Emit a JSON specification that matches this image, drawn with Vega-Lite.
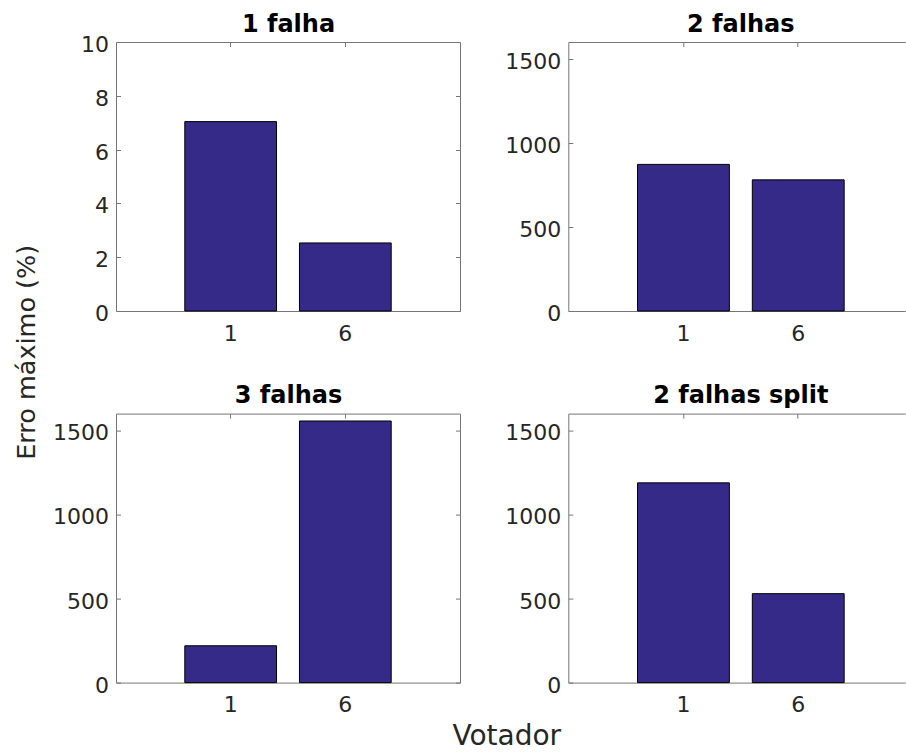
{
  "$schema": "https://vega.github.io/schema/vega-lite/v6.json",
  "background": "white",
  "padding": {"left": 14, "top": 12, "right": 0, "bottom": 0},
  "data": {
    "values": [
      {"painel": "1 falha", "votador": "1", "erro": 7.04},
      {"painel": "1 falha", "votador": "6", "erro": 2.53},
      {"painel": "2 falhas", "votador": "1", "erro": 872},
      {"painel": "2 falhas", "votador": "6", "erro": 780},
      {"painel": "3 falhas", "votador": "1", "erro": 219},
      {"painel": "3 falhas", "votador": "6", "erro": 1556},
      {"painel": "2 falhas split", "votador": "1", "erro": 1188},
      {"painel": "2 falhas split", "votador": "6", "erro": 529}
    ]
  },
  "columns": 2,
  "bounds": "flush",
  "spacing": {"row": 102.6, "column": 108.3},
  "concat": [
    {
      "width": 344,
      "height": 269,
      "transform": [{"filter": "datum.painel === '1 falha'"}],
      "layer": [
        {
          "mark": {"type": "bar", "fill": "#352a87", "stroke": "#000000", "strokeWidth": 1},
          "encoding": {
            "x": {"field": "votador", "type": "nominal",
                  "scale": {"paddingInner": 0.2, "paddingOuter": 0.6, "align": 0.5},
                  "axis": {"orient": "bottom", "title": null}},
            "y": {"field": "erro", "type": "quantitative",
                  "scale": {"domain": [0, 10], "nice": false},
                  "axis": {"orient": "left", "values": [0, 2, 4, 6, 8, 10],
                           "title": "Erro máximo (%)", "titleFontSize": 25.5,
                           "titleX": -81.7, "titleY": 309.8, "titleAngle": 270,
                           "titleAlign": "center", "titleBaseline": "alphabetic"}}
          }
        },
        {
          "mark": {"type": "bar", "opacity": 0},
          "encoding": {
            "x": {"field": "votador", "type": "nominal", "axis": {"orient": "top", "title": "1 falha"}},
            "y": {"field": "erro", "type": "quantitative",
                  "axis": {"orient": "right", "values": [0, 2, 4, 6, 8, 10], "title": null}}
          }
        }
      ],
      "resolve": {"axis": {"x": "independent", "y": "independent"}}
    },
    {
      "width": 337,
      "height": 269,
      "transform": [{"filter": "datum.painel === '2 falhas'"}],
      "layer": [
        {
          "mark": {"type": "bar", "fill": "#352a87", "stroke": "#000000", "strokeWidth": 1},
          "encoding": {
            "x": {"field": "votador", "type": "nominal",
                  "scale": {"paddingInner": 0.2, "paddingOuter": 0.5678, "align": 0.531},
                  "axis": {"orient": "bottom", "title": null}},
            "y": {"field": "erro", "type": "quantitative",
                  "scale": {"domain": [0, 1600], "nice": false},
                  "axis": {"orient": "left", "values": [0, 500, 1000, 1500], "title": null}}
          }
        },
        {
          "mark": {"type": "bar", "opacity": 0},
          "encoding": {
            "x": {"field": "votador", "type": "nominal", "axis": {"orient": "top", "title": "2 falhas"}},
            "y": {"field": "erro", "type": "quantitative", "axis": null}
          }
        }
      ],
      "resolve": {"axis": {"x": "independent", "y": "independent"}}
    },
    {
      "width": 344,
      "height": 269,
      "transform": [{"filter": "datum.painel === '3 falhas'"}],
      "layer": [
        {
          "mark": {"type": "bar", "fill": "#352a87", "stroke": "#000000", "strokeWidth": 1},
          "encoding": {
            "x": {"field": "votador", "type": "nominal",
                  "scale": {"paddingInner": 0.2, "paddingOuter": 0.6, "align": 0.5},
                  "axis": {"orient": "bottom", "title": "Votador", "titleFontSize": 28,
                           "titleX": 390.3, "titleY": 62.3, "titleAlign": "center",
                           "titleBaseline": "alphabetic", "titleFontWeight": "normal",
                           "titleColor": "#262626"}},
            "y": {"field": "erro", "type": "quantitative",
                  "scale": {"domain": [0, 1600], "nice": false},
                  "axis": {"orient": "left", "values": [0, 500, 1000, 1500], "title": null}}
          }
        },
        {
          "mark": {"type": "bar", "opacity": 0},
          "encoding": {
            "x": {"field": "votador", "type": "nominal", "axis": {"orient": "top", "title": "3 falhas"}},
            "y": {"field": "erro", "type": "quantitative",
                  "axis": {"orient": "right", "values": [0, 500, 1000, 1500], "title": null}}
          }
        }
      ],
      "resolve": {"axis": {"x": "independent", "y": "independent"}}
    },
    {
      "width": 337,
      "height": 269,
      "transform": [{"filter": "datum.painel === '2 falhas split'"}],
      "layer": [
        {
          "mark": {"type": "bar", "fill": "#352a87", "stroke": "#000000", "strokeWidth": 1},
          "encoding": {
            "x": {"field": "votador", "type": "nominal",
                  "scale": {"paddingInner": 0.2, "paddingOuter": 0.5678, "align": 0.531},
                  "axis": {"orient": "bottom", "title": null}},
            "y": {"field": "erro", "type": "quantitative",
                  "scale": {"domain": [0, 1600], "nice": false},
                  "axis": {"orient": "left", "values": [0, 500, 1000, 1500], "title": null}}
          }
        },
        {
          "mark": {"type": "bar", "opacity": 0},
          "encoding": {
            "x": {"field": "votador", "type": "nominal", "axis": {"orient": "top", "title": "2 falhas split"}},
            "y": {"field": "erro", "type": "quantitative", "axis": null}
          }
        }
      ],
      "resolve": {"axis": {"x": "independent", "y": "independent"}}
    }
  ],
  "config": {
    "font": "DejaVu Sans",
    "view": {"stroke": null},
    "axis": {
      "grid": false,
      "domainColor": "#767676",
      "domainWidth": 1,
      "tickColor": "#767676",
      "tickWidth": 1,
      "tickSize": -4.5,
      "labelFont": "DejaVu Sans",
      "labelFontSize": 22,
      "labelColor": "#262626",
      "labelFlush": false,
      "labelOverlap": false,
      "format": "d",
      "titleFont": "DejaVu Sans",
      "titleFontWeight": "normal",
      "titleColor": "#262626"
    },
    "axisLeft": {"labelPadding": 12, "labelOffset": 2.5},
    "axisBottom": {"labelPadding": 16.5, "labelAngle": 0},
    "axisTop": {
      "labels": false,
      "titleX": 172,
      "titleY": -11,
      "titleAlign": "center",
      "titleBaseline": "alphabetic",
      "titleFontSize": 24,
      "titleFontWeight": "bold",
      "titleColor": "#000000"
    },
    "axisRight": {"labels": false}
  }
}
